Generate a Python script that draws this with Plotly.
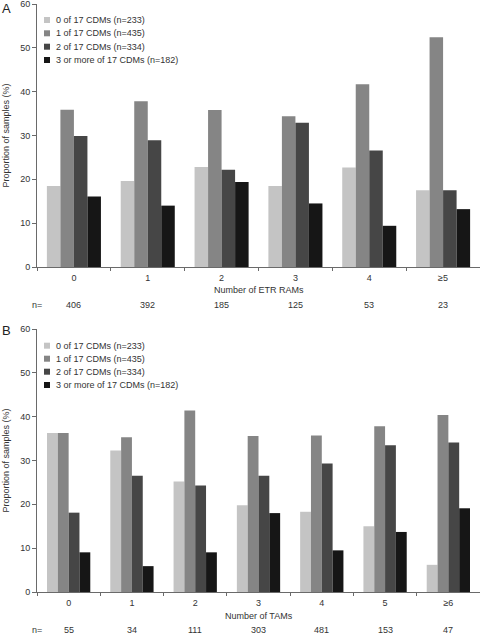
import plotly.graph_objects as go

# ---- data ----
series_names = ["0 of 17 CDMs (n=233)", "1 of 17 CDMs (n=435)",
                "2 of 17 CDMs (n=334)", "3 or more of 17 CDMs (n=182)"]
series_colors = ["#c4c4c4", "#858585", "#464646", "#161616"]

cats_a = ["0", "1", "2", "3", "4", "≥5"]
n_a = ["406", "392", "185", "125", "53", "23"]
a_0 = [18.5, 19.6, 22.8, 18.5, 22.7, 17.5]
a_1 = [35.9, 37.8, 35.8, 34.4, 41.7, 52.4]
a_2 = [29.9, 28.9, 22.2, 32.9, 26.6, 17.5]
a_3 = [16.1, 14.0, 19.4, 14.5, 9.4, 13.2]

cats_b = ["0", "1", "2", "3", "4", "5", "≥6"]
n_b = ["55", "34", "111", "303", "481", "153", "47"]
b_0 = [36.3, 32.3, 25.2, 19.8, 18.3, 15.0, 6.2]
b_1 = [36.3, 35.3, 41.4, 35.6, 35.7, 37.8, 40.4]
b_2 = [18.1, 26.5, 24.3, 26.5, 29.3, 33.5, 34.1]
b_3 = [9.05, 5.9, 9.05, 18.0, 9.5, 13.7, 19.1]

y_ticks = [0, 10, 20, 30, 40, 50, 60]

W, H = 480, 634
ML = 37
PW = W - ML

def py(p):  # pixel y -> paper y
    return 1 - p / H

def px(p):  # pixel x -> paper x
    return (p - ML) / PW

FONT = "Liberation Sans, Arial, Helvetica, sans-serif"
TXT = "#333333"
AX = "#6a6a6a"

fig = go.Figure()

def add_panel(cats, vals, xa, ya, w):
    for i, (v, c) in enumerate(zip(vals, series_colors)):
        fig.add_trace(go.Bar(
            x=cats, y=v, name=series_names[i], marker_color=c,
            marker_line_width=0, width=w, offset=-2 * w + i * w,
            xaxis=xa, yaxis=ya, showlegend=False))

add_panel(cats_a, [a_0, a_1, a_2, a_3], "x", "y", 0.183)
add_panel(cats_b, [b_0, b_1, b_2, b_3], "x2", "y2", 0.171)

axis_common = dict(showline=True, linecolor=AX, linewidth=1, ticks="outside",
                   tickcolor=AX, showgrid=False, zeroline=False,
                   ticklabeloverflow="allow",
                   tickfont=dict(size=9, color=TXT, family=FONT), automargin=False)

xcommon = dict(type="category", tickson="boundaries", ticklen=3,
               ticklabelstandoff=2, **axis_common)
ycommon = dict(range=[0, 60], tickvals=y_ticks, ticklen=4, **axis_common)

fig.update_layout(
    width=W, height=H, barmode="overlay",
    margin=dict(l=ML, r=0, t=0, b=0),
    paper_bgcolor="white", plot_bgcolor="white",
    font=dict(family=FONT, size=9, color=TXT),
    xaxis=dict(domain=[0, 1], anchor="y", **xcommon),
    yaxis=dict(domain=[py(267), py(4)], anchor="x",
               title=dict(text="Proportion of samples (%)", standoff=9,
                          font=dict(size=9, color=TXT)), **ycommon),
    xaxis2=dict(domain=[0, 1], anchor="y2", **xcommon),
    yaxis2=dict(domain=[py(592), py(329)], anchor="x2",
                title=dict(text="Proportion of samples (%)", standoff=9,
                           font=dict(size=9, color=TXT)), **ycommon),
)

ann = []
shapes = []
# panel letters
ann.append(dict(text="A", x=0, y=1, xref="paper", yref="paper", xanchor="left",
                yanchor="top", showarrow=False, font=dict(size=13, color="#222"),
                xshift=-ML, yshift=1))
ann.append(dict(text="B", x=0, y=py(321), xref="paper", yref="paper", xanchor="left",
                yanchor="top", showarrow=False, font=dict(size=13, color="#222"),
                xshift=-ML))

# x-axis titles
for t, yc in [("Number of ETR RAMs", 290), ("Number of TAMs", 616)]:
    ann.append(dict(text=t, x=0.5, y=py(yc), xref="paper", yref="paper",
                    xanchor="center", yanchor="middle",
                    showarrow=False, font=dict(size=9, color=TXT)))

# n rows
for cats, ns, xr, yrow in [(cats_a, n_a, "x", 305), (cats_b, n_b, "x2", 630)]:
    ann.append(dict(text="n=", x=px(37), y=py(yrow), xref="paper", yref="paper",
                    xanchor="center", yanchor="middle",
                    showarrow=False, font=dict(size=9, color=TXT)))
    for c, n in zip(cats, ns):
        ann.append(dict(text=n, x=c, y=py(yrow), xref=xr, yref="paper",
                        xanchor="center", yanchor="middle",
                        showarrow=False, font=dict(size=9, color=TXT)))

# legends
for rows in [[20, 33.3, 46.7, 60], [345.7, 358.7, 371.7, 385]]:
    for name, col, yc in zip(series_names, series_colors, rows):
        shapes.append(dict(type="rect", xref="paper", yref="paper",
                           x0=px(44), x1=px(50), y0=py(yc + 3), y1=py(yc - 3),
                           fillcolor=col, line=dict(width=0)))
        ann.append(dict(text=name, x=px(54), y=py(yc), xref="paper", yref="paper",
                        xanchor="left", yanchor="middle", showarrow=False,
                        font=dict(size=9, color=TXT)))

fig.update_layout(annotations=ann, shapes=shapes)
fig.write_html("out.html", config={"displayModeBar": False},
               post_script="document.body.style.margin='0px';"
                           "document.body.style.overflow='hidden';")
